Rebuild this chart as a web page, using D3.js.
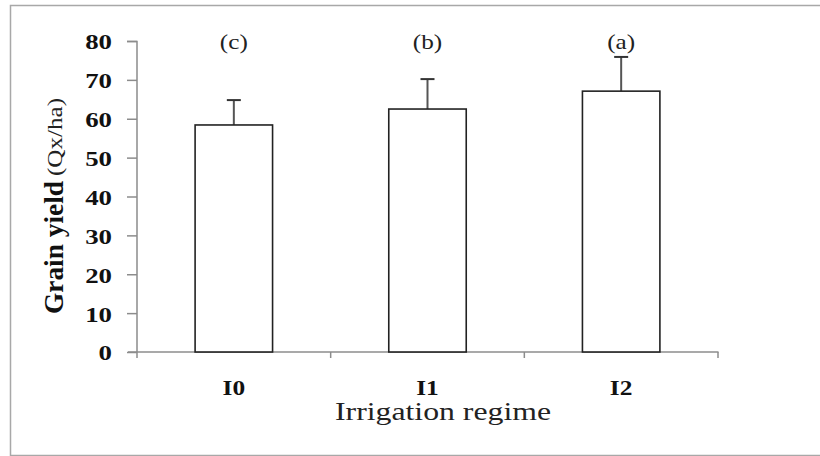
<!DOCTYPE html>
<html>
<head>
<meta charset="utf-8">
<script src="https://cdn.jsdelivr.net/npm/d3@7"></script>
<style>
	body { margin: 0; background: #fff; }
	text { font-family: "Liberation Serif", "Times New Roman", serif; }
</style>
</head>
<body>
<script>

const categories = ['I0', 'I1', 'I2'];
const yieldMeans = [58.4, 62.5, 67.1];
const yieldErrors = [6.4, 7.7, 8.8];
const groupLetters = ['(c)', '(b)', '(a)'];
const yTicks = [0, 10, 20, 30, 40, 50, 60, 70, 80];

const width = 820;
const height = 456;
const stretch = 1.27;   // the picture is a bit wide, so text is stretched too

const svg = d3.select('body')
	.append('svg')
	.attr('width', width)
	.attr('height', height);

// frame, open on the right
svg.append('path')
	.attr('d', 'M822,5.5 H10.5 V455.5 H822')
	.attr('fill', 'none')
	.attr('stroke', '#a8a8a8')
	.attr('stroke-width', 1.5);

const xScale = d3.scaleBand()
	.domain(categories)
	.range([137, 718])
	.paddingInner(0.6)
	.paddingOuter(0.3);

const yScale = d3.scaleLinear()
	.domain([0, 80])
	.range([352, 41]);

function widen(sel, k) {
	sel.each(function() {
		const len = this.getComputedTextLength();
		d3.select(this)
			.attr('textLength', len * k)
			.attr('lengthAdjust', 'spacingAndGlyphs');
	});
}

// y axis
const yAxis = svg.append('g')
	.attr('transform', 'translate(137,0)')
	.call(d3.axisLeft(yScale).tickValues(yTicks).tickSize(10).tickPadding(15));
yAxis.select('.domain').attr('stroke', '#8c8c8c').attr('stroke-width', 1.5)
	.attr('d', 'M-10,41.5H0V352');
yAxis.selectAll('.tick line').attr('stroke', '#8c8c8c').attr('stroke-width', 1.5);
yAxis.selectAll('.tick text')
	.attr('fill', '#111')
	.attr('font-size', 22)
	.attr('font-weight', 'bold')
	.attr('dy', '0.36em')
	.call(widen, 1.22);

// x axis: ticks sit on the category boundaries
const boundaries = [137].concat(categories.map(c => xScale(c) + xScale.bandwidth() + xScale.step() * xScale.paddingInner() / 2));
boundaries[boundaries.length - 1] = 718;
const xAxis = svg.append('g');
xAxis.append('line')
	.attr('x1', 128).attr('x2', 718.5)
	.attr('y1', 352).attr('y2', 352)
	.attr('stroke', '#8c8c8c').attr('stroke-width', 1.5);
xAxis.selectAll('line.bt')
	.data(boundaries)
	.enter()
	.append('line')
	.attr('class', 'bt')
	.attr('x1', d => d).attr('x2', d => d)
	.attr('y1', 352).attr('y2', 358)
	.attr('stroke', '#8c8c8c').attr('stroke-width', 1.5);

xAxis.selectAll('text.cat')
	.data(categories)
	.enter()
	.append('text')
	.attr('class', 'cat')
	.attr('x', d => xScale(d) + xScale.bandwidth() / 2)
	.attr('y', 395)
	.attr('text-anchor', 'middle')
	.attr('font-size', 20)
	.attr('font-weight', 'bold')
	.attr('fill', '#111')
	.text(d => d)
	.call(widen, stretch);

// bars
const data = categories.map((c, i) => ({ cat: c, mean: yieldMeans[i], err: yieldErrors[i], letter: groupLetters[i] }));

svg.selectAll('line.err')
	.data(data)
	.enter()
	.append('line')
	.attr('class', 'err')
	.attr('x1', d => xScale(d.cat) + xScale.bandwidth() / 2)
	.attr('x2', d => xScale(d.cat) + xScale.bandwidth() / 2)
	.attr('y1', d => yScale(d.mean))
	.attr('y2', d => yScale(d.mean + d.err))
	.attr('stroke', '#555')
	.attr('stroke-width', 2);

svg.selectAll('line.cap')
	.data(data)
	.enter()
	.append('line')
	.attr('class', 'cap')
	.attr('x1', d => xScale(d.cat) + xScale.bandwidth() / 2 - 7)
	.attr('x2', d => xScale(d.cat) + xScale.bandwidth() / 2 + 7)
	.attr('y1', d => yScale(d.mean + d.err))
	.attr('y2', d => yScale(d.mean + d.err))
	.attr('stroke', '#333')
	.attr('stroke-width', 2);

svg.selectAll('rect.bar')
	.data(data)
	.enter()
	.append('rect')
	.attr('class', 'bar')
	.attr('x', d => xScale(d.cat))
	.attr('y', d => yScale(d.mean))
	.attr('width', xScale.bandwidth())
	.attr('height', d => yScale(0) - yScale(d.mean))
	.attr('fill', '#fff')
	.attr('stroke', '#222')
	.attr('stroke-width', 1.6);

svg.selectAll('text.letter')
	.data(data)
	.enter()
	.append('text')
	.attr('class', 'letter')
	.attr('x', d => xScale(d.cat) + xScale.bandwidth() / 2)
	.attr('y', 49)
	.attr('text-anchor', 'middle')
	.attr('font-size', 21)
	.attr('fill', '#222')
	.text(d => d.letter)
	.call(widen, 1.2);

// axis titles
svg.append('text')
	.attr('transform', 'translate(443,420)')
	.attr('text-anchor', 'middle')
	.attr('font-size', 25)
	.attr('fill', '#222')
	.text('Irrigation regime')
	.call(widen, stretch);

svg.append('text')
	.attr('transform', 'translate(63,314) rotate(-90) scale(1,1.27)')
	.attr('font-size', 22)
	.attr('font-weight', 'bold')
	.attr('fill', '#111')
	.attr('textLength', 133)
	.attr('lengthAdjust', 'spacingAndGlyphs')
	.text('Grain yield');

svg.append('text')
	.attr('transform', 'translate(62,176) rotate(-90) scale(1,1.27)')
	.attr('font-size', 17)
	.attr('fill', '#222')
	.attr('textLength', 78)
	.attr('lengthAdjust', 'spacingAndGlyphs')
	.text('(Qx/ha)');

</script>
</body>
</html>
